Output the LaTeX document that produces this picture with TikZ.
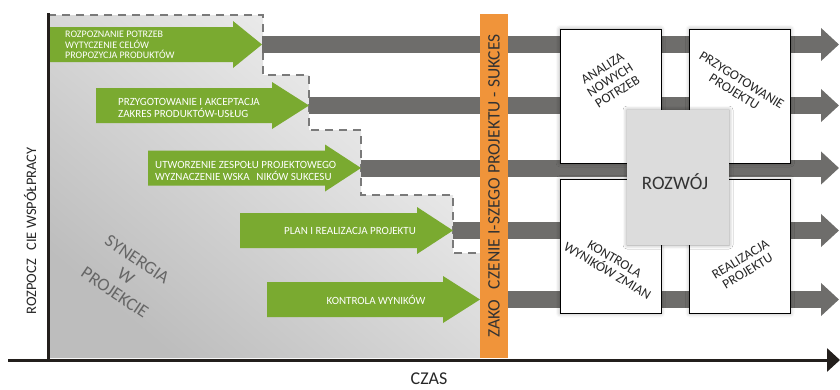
\documentclass[tikz,border=0pt]{standalone}
\usepackage{fontspec}
\setmainfont{Carlito}
\usetikzlibrary{arrows.meta,shadows.blur}

\definecolor{projgreen}{HTML}{7AAA30}
\definecolor{projorange}{HTML}{F0943A}
\definecolor{bargray}{HTML}{6E6D6B}
\definecolor{dashgray}{HTML}{7A7A7A}
\definecolor{axisblack}{HTML}{231F1C}
\definecolor{devgray}{HTML}{DCDCDC}

\tikzset{
  bar/.style={line width=17pt, bargray, -{Triangle[length=18pt,width=32pt]}},
  axis/.style={line width=3pt, axisblack},
  stepline/.style={line width=2pt, dashgray, dash pattern=on 8pt off 6pt},
  steptext/.style={text=white, font=\fontsize{11}{11.5}\selectfont, align=left, inner sep=0pt},
  phasebox/.style={draw=black, fill=white, line width=0.8pt, minimum width=101pt, minimum height=134pt,
    blur shadow={shadow xshift=0pt, shadow yshift=0pt, shadow blur radius=4pt, shadow opacity=35}},
  boxtext/.style={font=\fontsize{13.5}{14}\selectfont, align=center, text=black!85, inner sep=0pt},
}

\begin{document}
\begin{tikzpicture}[x=1pt,y=-1pt]
    \useasboundingbox (0,0) rectangle (840,389);
    % gray region with steps
    \shade[top color=black!5, bottom color=black!26, shading angle=-40]
        (48,15) -| (263,75) -| (309,130) -| (361,195) -| (453,253) -| (480,358) -- (48,358) -- cycle;
    \draw[stepline] (48,15) -| (263,75) -| (309,130) -| (361,195) -| (453,253) -- (480,253);

    % green arrows
    \foreach \n/\xa/\yc/\xt/\hl in {1/48/44.5/262/29, 2/96/105.5/309/37, 3/148/168/361/36, 4/240/230.5/453/36, 5/267/299.5/480/37}{
        \fill[projgreen] (\xa,\yc-17.5) -- (\xt-\hl,\yc-17.5) -- (\xt-\hl,\yc-23.5) -- (\xt,\yc)
            -- (\xt-\hl,\yc+23.5) -- (\xt-\hl,\yc+17.5) -- (\xa,\yc+17.5) -- cycle;
        \coordinate (tip\n) at (\xt,\yc);
        \coordinate (end\n) at (839,\yc);
    }
    \foreach \n in {1,...,5}
        \draw[bar] (tip\n) -- (end\n);

    \node[steptext, anchor=west, font=\fontsize{10}{10.5}\selectfont] (needs) at (65,45) {ROZPOZNANIE POTRZEB\\WYTYCZENIE CELÓW\\PROPOZYCJA PRODUKTÓW};
    \node[steptext, anchor=west, font=\fontsize{11}{12}\selectfont] (accept) at (118,108) {PRZYGOTOWANIE I AKCEPTACJA\\ZAKRES PRODUKTÓW-USŁUG};
    \node[steptext, anchor=west] (team) at (155,171) {UTWORZENIE ZESPOŁU PROJEKTOWEGO\\WYZNACZENIE WSKA\hspace{0.6em}NIKÓW SUKCESU};
    \node[steptext] (plan) at (350,231) {PLAN I REALIZACJA PROJEKTU};
    \node[steptext] (control) at (376,300) {KONTROLA WYNIKÓW};

    % end of the first project
    \node[fill=projorange, rotate=90, minimum width=344pt, minimum height=28pt, inner sep=0pt,
        text=black!80, font=\fontsize{17.5}{17.5}\selectfont] (success) at (494,186)
        {ZAKO\hspace{0.6em}CZENIE I-SZEGO PROJEKTU - SUKCES};

    % development cycle
    \node[phasebox] (analysis) at (610.5,96) {};
    \node[phasebox] (prepare) at (740,96) {};
    \node[phasebox] (check) at (610.5,246.5) {};
    \node[phasebox] (realize) at (740,246.5) {};
    \node[fill=devgray, minimum width=102pt, minimum height=135pt, inner sep=0pt,
        blur shadow={shadow xshift=0pt, shadow yshift=0pt, shadow blur radius=4pt, shadow opacity=40}] (develop) at (678,177.5) {};
    \node[font=\fontsize{19}{19}\selectfont, text=black!80] (developtext) at (675,182) {ROZWÓJ};

    \node[boxtext, rotate=32] (analysistext) at (610,80) {ANALIZA\\NOWYCH\\POTRZEB};
    \node[boxtext, rotate=-32] (preparetext) at (738,86) {PRZYGOTOWANIE\\PROJEKTU};
    \node[boxtext, rotate=-31] (checktext) at (611,265) {KONTROLA\\WYNIKÓW ZMIAN};
    \node[boxtext, rotate=31] (realizetext) at (744,265) {REALIZACJA\\PROJEKTU};

    % axes
    \coordinate (origin) at (48,360);
    \coordinate (ytop) at (48,13);
    \coordinate (xstart) at (8,360);
    \coordinate (xend) at (840,360);
    \draw[axis] (origin) -- (ytop);
    \draw[axis, -{Triangle[length=13pt,width=23pt]}] (xstart) -- (xend);

    \node[rotate=90, font=\fontsize{14.5}{14.5}\selectfont, text=black!85] (coop) at (30,231) {ROZPOCZ\hspace{0.6em}CIE WSPÓŁPRACY};
    \node[font=\fontsize{18}{18}\selectfont, text=black!85] (time) at (429,379) {CZAS};
    \node[rotate=-34, align=center, text=black!60, font=\fontsize{18}{20}\selectfont] (synergy) at (126,276) {SYNERGIA\\W\\PROJEKCIE};
\end{tikzpicture}
\end{document}
